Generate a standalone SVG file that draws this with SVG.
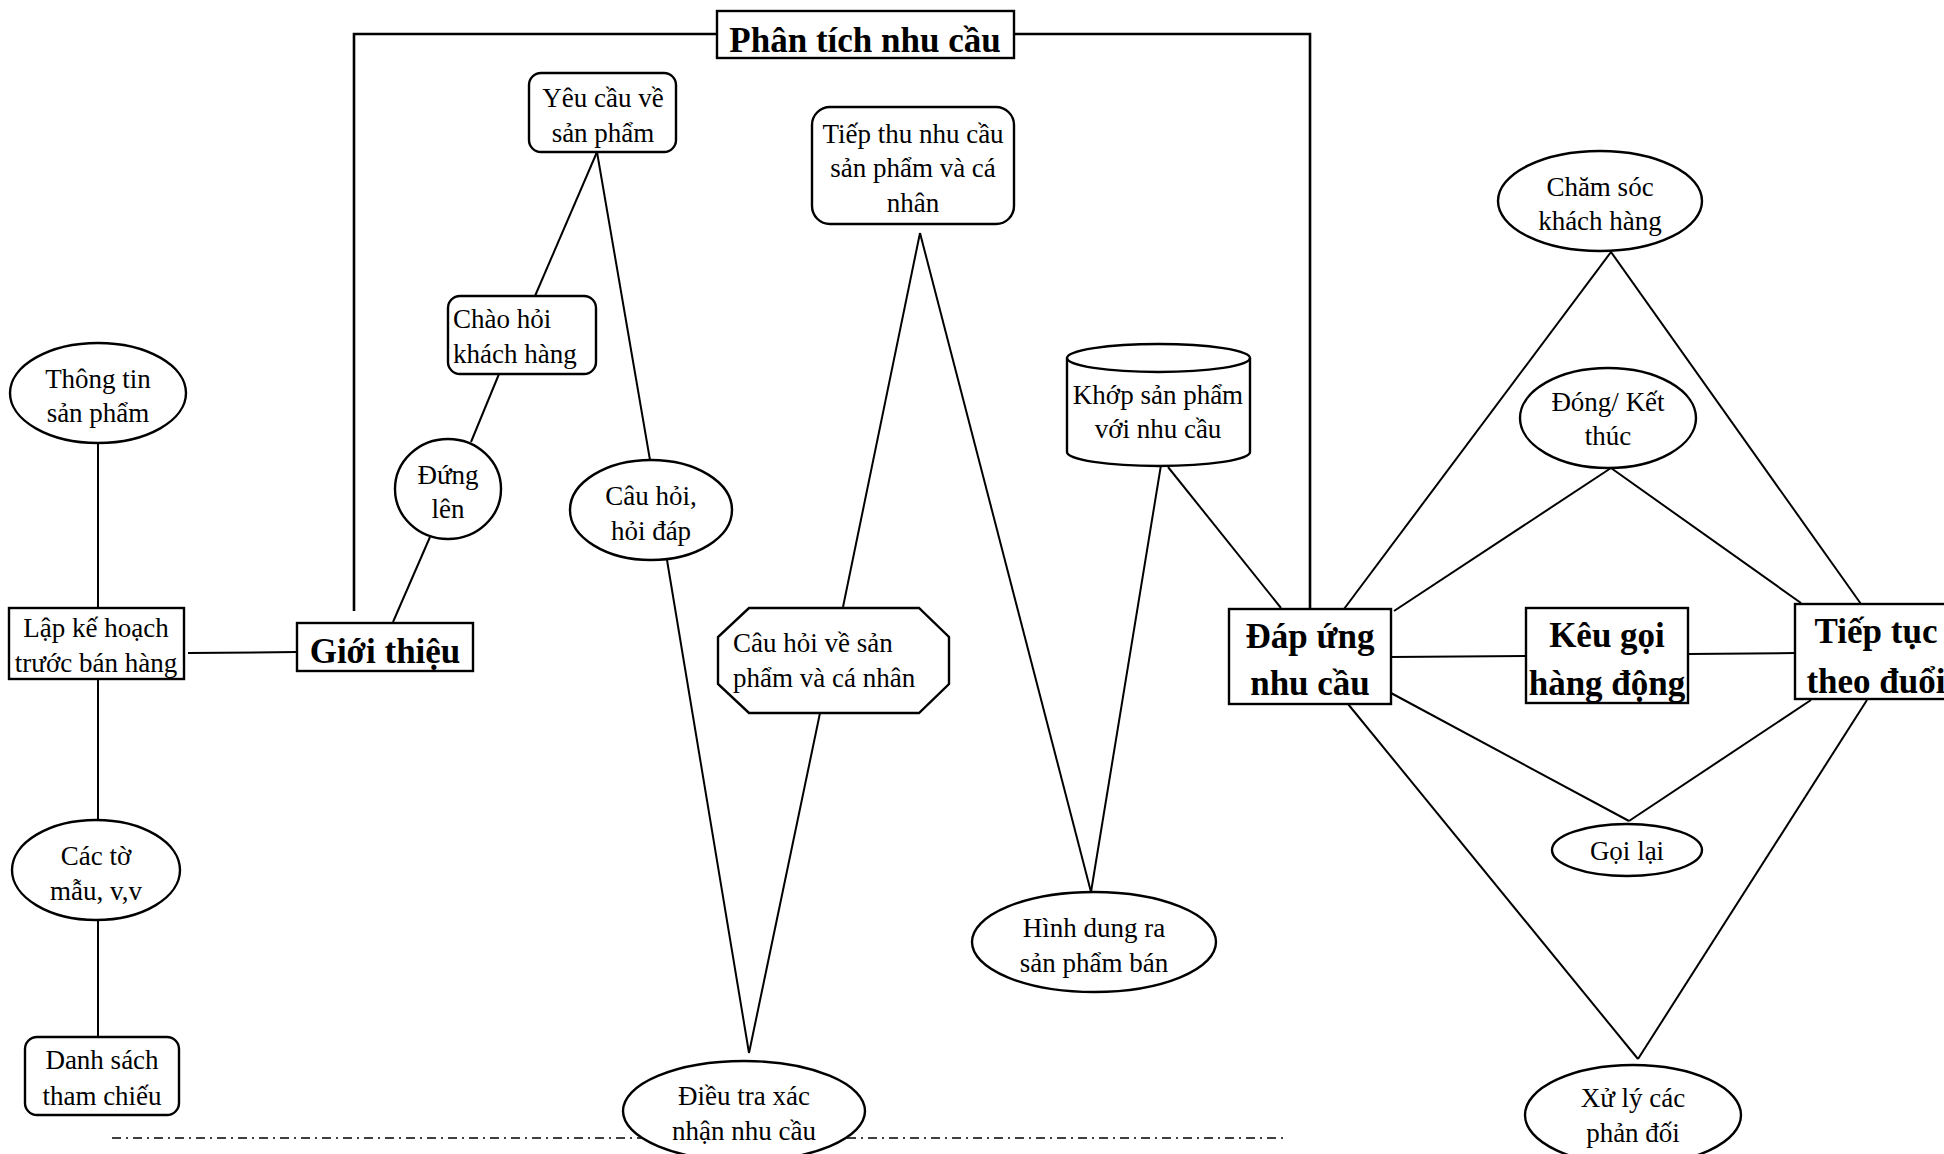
<svg xmlns="http://www.w3.org/2000/svg" width="1944" height="1154" viewBox="0 0 1944 1154">
  <style>
    .shape { fill: #fff; stroke: #000; stroke-width: 2.4; }
    .wire { fill: none; stroke: #000; stroke-width: 2; }
    .frame { fill: none; stroke: #000; stroke-width: 2.6; }
    .sep { fill: none; stroke: #000; stroke-width: 1.6; stroke-dasharray: 9 5 2 5; }
    text { font-family: "Liberation Serif", "Times New Roman", serif; fill: #000; }
    .t { font-size: 27px; text-anchor: middle; }
    .tl { font-size: 27px; text-anchor: start; }
    .b { font-size: 35px; font-weight: bold; text-anchor: middle; }
  </style>

  <rect x="0" y="0" width="1944" height="1154" fill="#fff"/>

  <!-- dash-dot separator along the bottom -->
  <g id="separator">
    <line class="sep" x1="112" y1="1138" x2="1286" y2="1138"/>
  </g>

  <!-- connectors -->
  <g id="connectors">
    <polyline class="frame" points="354,611 354,34 1310,34 1310,609"/>
    <line class="wire" x1="98" y1="443" x2="98" y2="608"/>
    <line class="wire" x1="98" y1="679" x2="98" y2="820"/>
    <line class="wire" x1="98" y1="920" x2="98" y2="1037"/>
    <line class="wire" x1="188" y1="653" x2="297" y2="652"/>
    <line class="wire" x1="393" y1="622" x2="430" y2="537"/>
    <line class="wire" x1="471" y1="442" x2="499" y2="374"/>
    <line class="wire" x1="535" y1="296" x2="597" y2="152"/>
    <line class="wire" x1="597" y1="152" x2="650" y2="460"/>
    <line class="wire" x1="667" y1="560" x2="749" y2="1053"/>
    <line class="wire" x1="749" y1="1053" x2="820" y2="713"/>
    <line class="wire" x1="843" y1="607" x2="920" y2="233"/>
    <line class="wire" x1="920" y1="233" x2="1091" y2="892"/>
    <line class="wire" x1="1091" y1="892" x2="1161" y2="465"/>
    <line class="wire" x1="1168" y1="467" x2="1281" y2="608"/>
    <line class="wire" x1="1391" y1="657" x2="1526" y2="656"/>
    <line class="wire" x1="1688" y1="654" x2="1795" y2="653"/>
    <line class="wire" x1="1394" y1="611" x2="1611" y2="468"/>
    <line class="wire" x1="1611" y1="468" x2="1801" y2="603"/>
    <line class="wire" x1="1344" y1="609" x2="1611" y2="252"/>
    <line class="wire" x1="1611" y1="252" x2="1861" y2="604"/>
    <line class="wire" x1="1391" y1="693" x2="1629" y2="821"/>
    <line class="wire" x1="1629" y1="821" x2="1811" y2="700"/>
    <line class="wire" x1="1348" y1="704" x2="1638" y2="1059"/>
    <line class="wire" x1="1638" y1="1059" x2="1867" y2="700"/>
  </g>

  <!-- nodes -->
  <g id="phan-tich">
    <rect class="shape" x="717" y="11" width="297" height="47"/>
    <text class="b" x="865" y="52">Phân tích nhu cầu</text>
  </g>

  <g id="thong-tin">
    <ellipse class="shape" cx="98" cy="393" rx="88" ry="50"/>
    <text class="t" x="98" y="388">Thông tin</text>
    <text class="t" x="98" y="422">sản phẩm</text>
  </g>

  <g id="lap-ke-hoach">
    <rect class="shape" x="9" y="608" width="175" height="71"/>
    <text class="t" x="96" y="637">Lập kế hoạch</text>
    <text class="t" x="96" y="672">trước bán hàng</text>
  </g>

  <g id="cac-to-mau">
    <ellipse class="shape" cx="96" cy="870" rx="84" ry="50"/>
    <text class="t" x="96" y="865">Các tờ</text>
    <text class="t" x="96" y="900">mẫu, v,v</text>
  </g>

  <g id="danh-sach">
    <rect class="shape" x="25" y="1037" width="154" height="78" rx="12"/>
    <text class="t" x="102" y="1069">Danh sách</text>
    <text class="t" x="102" y="1105">tham chiếu</text>
  </g>

  <g id="gioi-thieu">
    <rect class="shape" x="297" y="623" width="176" height="48"/>
    <text class="b" x="385" y="663">Giới thiệu</text>
  </g>

  <g id="dung-len">
    <ellipse class="shape" cx="448" cy="489" rx="53" ry="50"/>
    <text class="t" x="448" y="484">Đứng</text>
    <text class="t" x="448" y="518">lên</text>
  </g>

  <g id="chao-hoi">
    <rect class="shape" x="448" y="296" width="148" height="78" rx="12"/>
    <text class="tl" x="453" y="328">Chào hỏi</text>
    <text class="tl" x="453" y="363">khách hàng</text>
  </g>

  <g id="yeu-cau">
    <rect class="shape" x="529" y="73" width="147" height="79" rx="12"/>
    <text class="t" x="603" y="107">Yêu cầu về</text>
    <text class="t" x="603" y="142">sản phẩm</text>
  </g>

  <g id="cau-hoi">
    <ellipse class="shape" cx="651" cy="510" rx="81" ry="50"/>
    <text class="t" x="651" y="505">Câu hỏi,</text>
    <text class="t" x="651" y="540">hỏi đáp</text>
  </g>

  <g id="dieu-tra">
    <ellipse class="shape" cx="744" cy="1111" rx="121" ry="50"/>
    <text class="t" x="744" y="1105">Điều tra xác</text>
    <text class="t" x="744" y="1140">nhận nhu cầu</text>
  </g>

  <g id="cau-hoi-ve">
    <polygon class="shape" points="749,608 919,608 949,637 949,684 919,713 749,713 718,684 718,637"/>
    <text class="tl" x="733" y="652">Câu hỏi về sản</text>
    <text class="tl" x="733" y="687">phẩm và cá nhân</text>
  </g>

  <g id="tiep-thu">
    <rect class="shape" x="812" y="107" width="202" height="117" rx="18"/>
    <text class="t" x="913" y="143">Tiếp thu nhu cầu</text>
    <text class="t" x="913" y="177">sản phẩm và cá</text>
    <text class="t" x="913" y="212">nhân</text>
  </g>

  <g id="hinh-dung">
    <ellipse class="shape" cx="1094" cy="942" rx="122" ry="50"/>
    <text class="t" x="1094" y="937">Hình dung ra</text>
    <text class="t" x="1094" y="972">sản phẩm bán</text>
  </g>

  <g id="khop-san-pham">
    <path class="shape" d="M1067,358 A91.5,14 0 0 1 1250,358 L1250,452 A91.5,14 0 0 1 1067,452 Z"/>
    <path class="wire" style="stroke-width:2.4" d="M1067,358 A91.5,14 0 0 0 1250,358"/>
    <text class="t" x="1158" y="404">Khớp sản phẩm</text>
    <text class="t" x="1158" y="438">với nhu cầu</text>
  </g>

  <g id="dap-ung">
    <rect class="shape" x="1229" y="609" width="162" height="95"/>
    <text class="b" x="1310" y="648">Đáp ứng</text>
    <text class="b" x="1310" y="695">nhu cầu</text>
  </g>

  <g id="keu-goi">
    <rect class="shape" x="1526" y="608" width="162" height="95"/>
    <text class="b" x="1607" y="647">Kêu gọi</text>
    <text class="b" x="1607" y="695">hàng động</text>
  </g>

  <g id="tiep-tuc">
    <rect class="shape" x="1795" y="604" width="162" height="95"/>
    <text class="b" x="1876" y="643">Tiếp tục</text>
    <text class="b" x="1876" y="693">theo đuổi</text>
  </g>

  <g id="cham-soc">
    <ellipse class="shape" cx="1600" cy="201" rx="102" ry="50"/>
    <text class="t" x="1600" y="196">Chăm sóc</text>
    <text class="t" x="1600" y="230">khách hàng</text>
  </g>

  <g id="dong-ket-thuc">
    <ellipse class="shape" cx="1608" cy="418" rx="88" ry="50"/>
    <text class="t" x="1608" y="411">Đóng/ Kết</text>
    <text class="t" x="1608" y="445">thúc</text>
  </g>

  <g id="goi-lai">
    <ellipse class="shape" cx="1627" cy="850" rx="75" ry="26"/>
    <text class="t" x="1627" y="860">Gọi lại</text>
  </g>

  <g id="xu-ly">
    <ellipse class="shape" cx="1633" cy="1115" rx="108" ry="50"/>
    <text class="t" x="1633" y="1107">Xử lý các</text>
    <text class="t" x="1633" y="1142">phản đối</text>
  </g>
</svg>
